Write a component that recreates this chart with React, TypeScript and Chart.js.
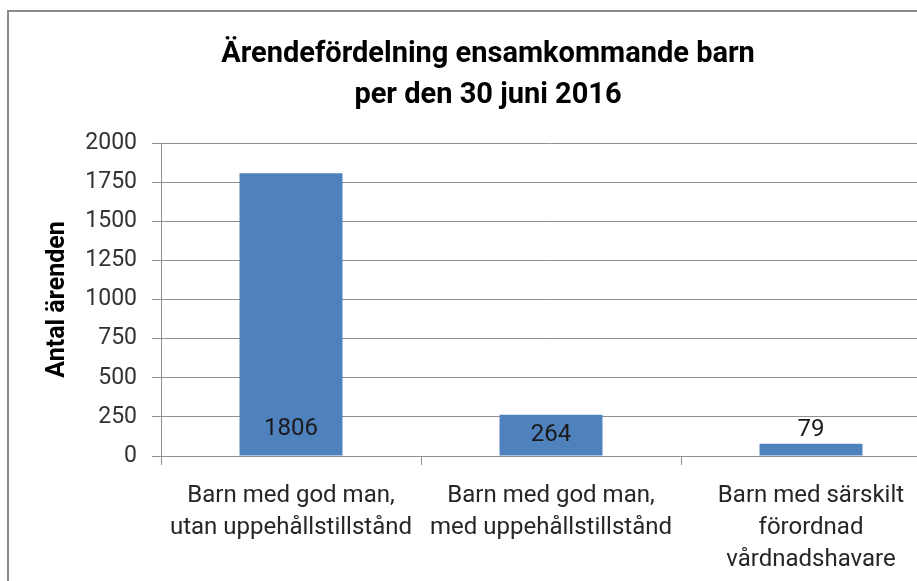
import React, { useEffect, useRef } from "react";
import { Chart, registerables } from "chart.js";

Chart.register(...registerables);

const titleLines = ["Ärendefördelning ensamkommande barn", "per den 30 juni 2016"];
const yAxisTitle = "Antal ärenden";
const categories: string[][] = [
  ["Barn med god man,", "utan uppehållstillstånd"],
  ["Barn med god man,", "med uppehållstillstånd"],
  ["Barn med särskilt", "förordnad", "vårdnadshavare"],
];
const values = [1806, 264, 79];
const yMin = 0;
const yMax = 2000;
const yStep = 250;

const FONT = "Roboto, 'Open Sans', sans-serif";

const barLabelPlugin = {
  id: "barLabels",
  afterDatasetsDraw(chart: any) {
    const ctx = chart.ctx;
    const meta = chart.getDatasetMeta(0);
    ctx.save();
    ctx.font = `24px ${FONT}`;
    ctx.fillStyle = "#1a1a1a";
    ctx.textAlign = "center";
    ctx.textBaseline = "middle";
    meta.data.forEach((bar: any, i: number) => {
      const h = bar.base - bar.y;
      let y: number;
      if (h > 100) y = bar.base - 27;
      else if (h > 30) y = (bar.base + bar.y) / 2;
      else y = bar.y - 14;
      ctx.fillText(String(values[i]), bar.x, y);
    });
    ctx.restore();
  },
};

export default function App() {
  const ref = useRef<HTMLCanvasElement>(null);
  useEffect(() => {
    if (!ref.current) return;
    const chart = new Chart(ref.current, {
      type: "bar",
      data: {
        labels: categories,
        datasets: [
          {
            data: values,
            backgroundColor: "#4F81BD",
            borderWidth: 0,
            barPercentage: 0.396,
            categoryPercentage: 1,
          },
        ],
      },
      options: {
        animation: false,
        responsive: false,
        maintainAspectRatio: false,
        layout: { padding: { left: 35, right: 35, top: 0, bottom: 0 } },
        plugins: {
          legend: { display: false },
          tooltip: { enabled: false },
          title: {
            display: true,
            text: titleLines,
            color: "#000000",
            font: { family: FONT, size: 29, weight: "bold", lineHeight: 41 / 29 },
            padding: { top: 34, bottom: 27 },
          },
        },
        scales: {
          x: {
            grid: {
              offset: true,
              drawOnChartArea: false,
              drawTicks: true,
              tickLength: 9,
              color: "#909090",
            },
            border: { display: true, color: "#909090", width: 1 },
            ticks: {
              color: "#262626",
              font: { family: FONT, size: 24, lineHeight: 32 / 24 },
              padding: 15,
              maxRotation: 0,
              autoSkip: false,
            },
            afterFit(scale: any) {
              scale.height = 144;
            },
          },
          y: {
            min: yMin,
            max: yMax,
            grid: { color: "#909090", tickLength: 9, drawTicks: true },
            border: { display: true, color: "#909090", width: 1 },
            ticks: {
              stepSize: yStep,
              color: "#333333",
              font: { family: FONT, size: 23 },
              padding: 15,
              callback: (v: any) => String(v),
            },
            title: {
              display: true,
              text: yAxisTitle,
              color: "#000000",
              font: { family: FONT, size: 25, weight: "bold", lineHeight: 1.2 },
              padding: { top: 8, bottom: 0 },
            },
            afterFit(scale: any) {
              scale.width = 126;
            },
          },
        },
      },
      plugins: [barLabelPlugin],
    });
    return () => chart.destroy();
  }, []);

  return (
    <div
      style={{
        position: "fixed",
        left: 0,
        top: 0,
        width: 917,
        height: 581,
        overflow: "hidden",
        background: "#ffffff",
      }}
    >
      <div
        style={{
          position: "absolute",
          left: 7,
          top: 10,
          width: 1200,
          height: 1000,
          border: "2px solid #8a8a8a",
        }}
      />
      <canvas
        ref={ref}
        width={976}
        height={600}
        style={{ position: "absolute", left: 0, top: 0, width: 976, height: 600 }}
      />
    </div>
  );
}
